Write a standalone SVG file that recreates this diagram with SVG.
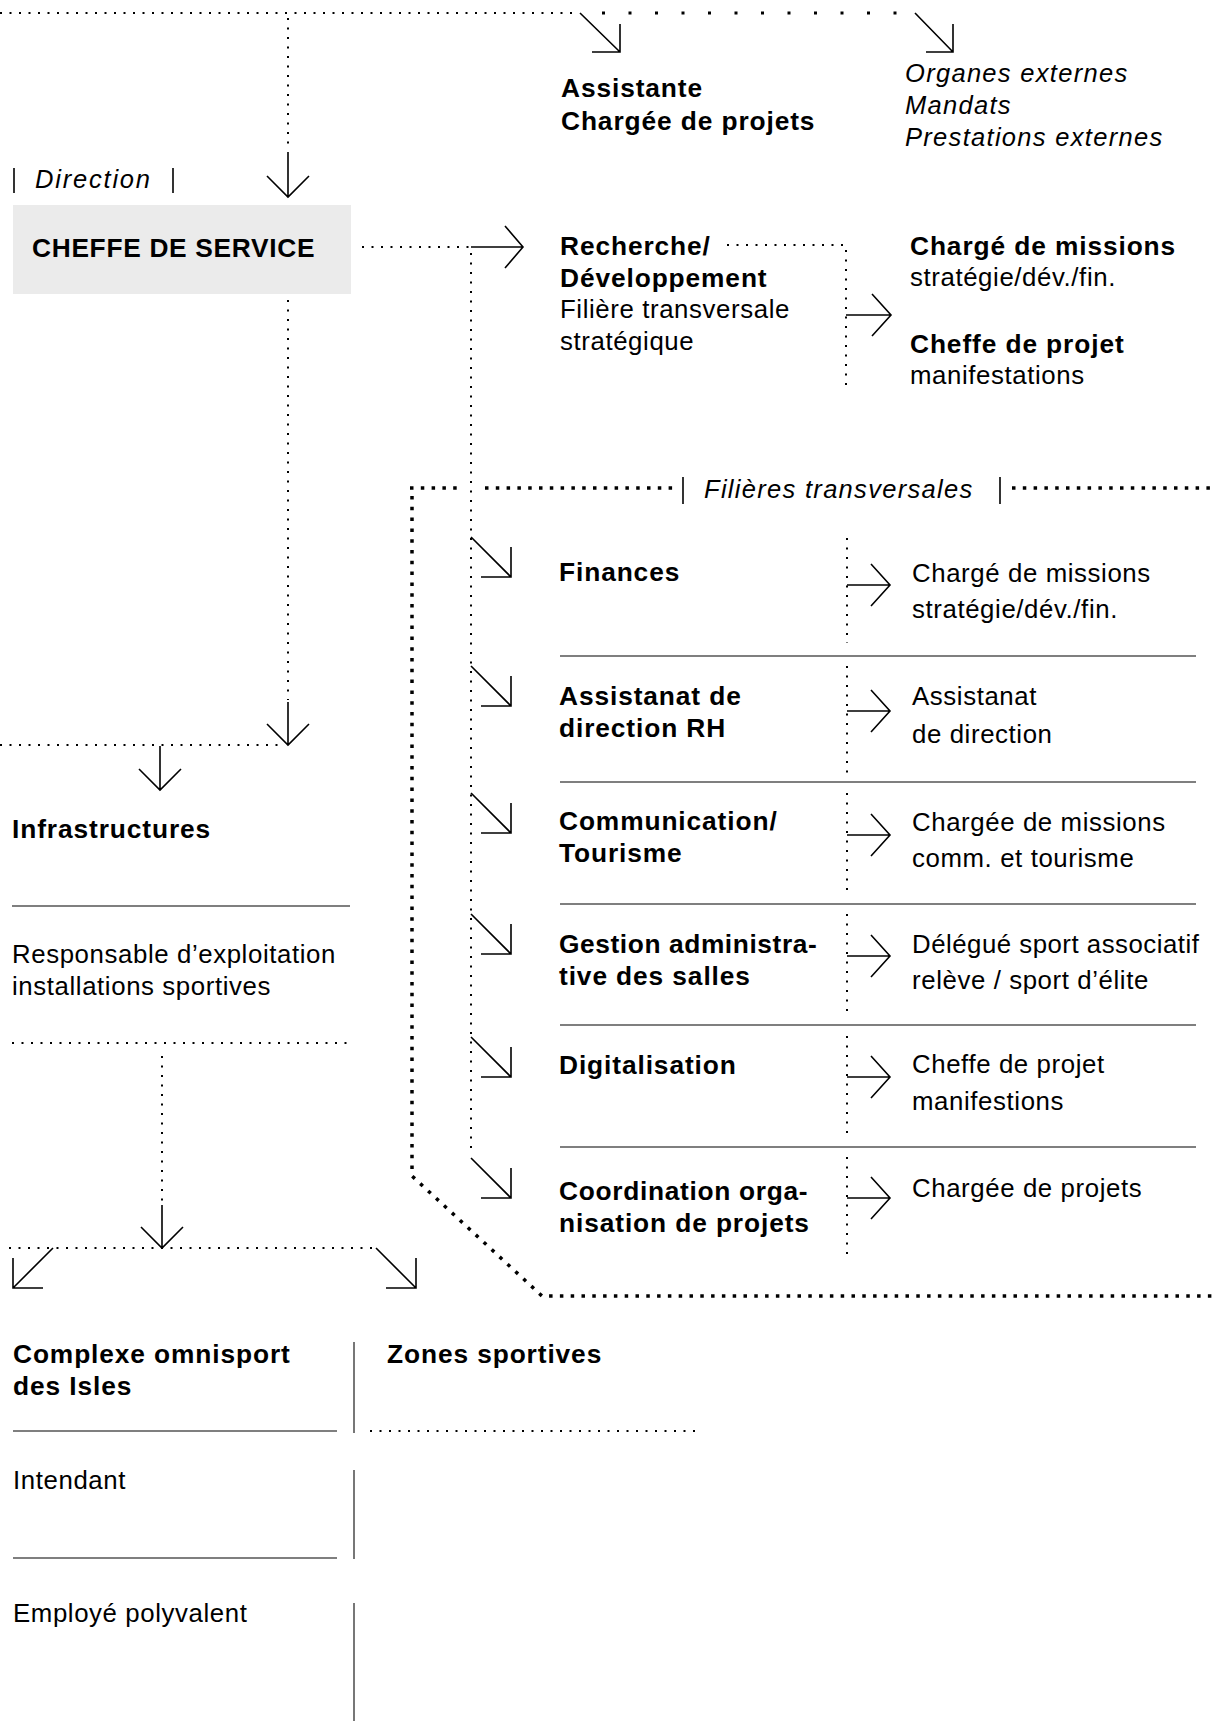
<svg xmlns="http://www.w3.org/2000/svg" width="1213" height="1721" viewBox="0 0 1213 1721">
<style>
text{font-family:"Liberation Sans",Arial,Helvetica,sans-serif;font-size:25.8px;fill:#000}
.b{font-weight:700;font-size:26.3px;letter-spacing:0.9px}
.r{letter-spacing:0.6px}
.i{font-style:italic;font-size:25.5px;letter-spacing:1.3px}
.dot{stroke:#000;stroke-width:2;stroke-dasharray:2 7.5;fill:none}
.thick{stroke:#000;stroke-width:3.5;stroke-dasharray:3.5 7.3;fill:none}
.big{stroke:#000;stroke-width:3;stroke-dasharray:3 23.5;fill:none}
.sol{stroke:#000;stroke-width:1.6;fill:none}
.sep{stroke:#555;stroke-width:1.6;fill:none}
.bar{stroke:#000;stroke-width:1.6;fill:none}
</style>
<rect width="1213" height="1721" fill="#fff"/>

<g id="connectors">
  <!-- top dotted line -->
  <line class="dot" x1="0" y1="13" x2="578" y2="13"/>
  <line class="big" x1="602" y1="13" x2="900" y2="13"/>
  <path class="sol" d="M580 13 L620 52 M592 52 H620 V24"/>
  <path class="sol" d="M915 13 L953 52 M926 52 H953 V24"/>
  <!-- down to CHEFFE -->
  <line class="dot" x1="288" y1="18" x2="288" y2="150"/>
  <path class="sol" d="M288 152 V197 M267 176 L288 197 L309 176"/>
  <!-- CHEFFE right to Recherche -->
  <line class="dot" x1="362" y1="247" x2="470" y2="247"/>
  <path class="sol" d="M471 247 H523 M505 226 L523 247 L505 268"/>
  <line class="dot" x1="471" y1="253" x2="471" y2="1154"/>
  <!-- Recherche branch -->
  <line class="dot" x1="727" y1="245" x2="846" y2="245"/>
  <line class="dot" x1="846" y1="250" x2="846" y2="386"/>
  <path class="sol" d="M846 315 H891 M872 294 L891 315 L872 336"/>
  <!-- filieres frame -->
  <line class="thick" x1="410" y1="488" x2="462" y2="488"/>
  <line class="thick" x1="485" y1="488" x2="675" y2="488"/>
  <line class="thick" x1="1012" y1="488" x2="1213" y2="488"/>
  <path class="thick" d="M412 496 V1176 L542 1296 H1213"/>
  <line class="bar" x1="683" y1="477" x2="683" y2="504"/>
  <line class="bar" x1="1000" y1="477" x2="1000" y2="504"/>
  <!-- diagonal arrows to filieres -->
  <path class="sol" d="M471 537 L511 577 M481 577 H511 V547"/>
  <path class="sol" d="M471 666 L511 706 M481 706 H511 V676"/>
  <path class="sol" d="M471 793 L511 833 M481 833 H511 V803"/>
  <path class="sol" d="M471 914 L511 954 M481 954 H511 V924"/>
  <path class="sol" d="M471 1037 L511 1077 M481 1077 H511 V1047"/>
  <path class="sol" d="M471 1158 L511 1198 M481 1198 H511 V1168"/>
  <!-- sub verticals and right arrows -->
  <line class="dot" x1="847" y1="538" x2="847" y2="643"/>
  <line class="dot" x1="847" y1="666" x2="847" y2="775"/>
  <line class="dot" x1="847" y1="793" x2="847" y2="896"/>
  <line class="dot" x1="847" y1="914" x2="847" y2="1016"/>
  <line class="dot" x1="847" y1="1036" x2="847" y2="1137"/>
  <line class="dot" x1="847" y1="1157" x2="847" y2="1258"/>
  <path class="sol" d="M847 585 H890 M871 564 L890 585 L871 606"/>
  <path class="sol" d="M847 711 H890 M871 690 L890 711 L871 732"/>
  <path class="sol" d="M847 835 H890 M871 814 L890 835 L871 856"/>
  <path class="sol" d="M847 956 H890 M871 935 L890 956 L871 977"/>
  <path class="sol" d="M847 1077 H890 M871 1056 L890 1077 L871 1098"/>
  <path class="sol" d="M847 1198 H890 M871 1177 L890 1198 L871 1219"/>
  <!-- separators -->
  <line class="sep" x1="560" y1="656" x2="1196" y2="656"/>
  <line class="sep" x1="560" y1="782" x2="1196" y2="782"/>
  <line class="sep" x1="560" y1="904" x2="1196" y2="904"/>
  <line class="sep" x1="560" y1="1025" x2="1196" y2="1025"/>
  <line class="sep" x1="560" y1="1147" x2="1196" y2="1147"/>
  <!-- left branch -->
  <line class="dot" x1="288" y1="300" x2="288" y2="700"/>
  <path class="sol" d="M288 702 V745 M267 724 L288 745 L309 724"/>
  <line class="dot" x1="0" y1="745" x2="284" y2="745"/>
  <path class="sol" d="M160 746 V790 M139 769 L160 790 L181 769"/>
  <line class="sep" x1="12" y1="906" x2="350" y2="906"/>
  <line class="dot" x1="12" y1="1043" x2="350" y2="1043"/>
  <line class="dot" x1="162" y1="1056" x2="162" y2="1204"/>
  <path class="sol" d="M162 1205 V1248 M141 1227 L162 1248 L183 1227"/>
  <line class="dot" x1="9" y1="1248" x2="374" y2="1248"/>
  <path class="sol" d="M53 1248 L13 1288 M43 1288 H13 V1258"/>
  <path class="sol" d="M376 1248 L416 1288 M386 1288 H416 V1258"/>
  <!-- bottom -->
  <line class="sep" x1="13" y1="1431" x2="337" y2="1431"/>
  <line class="dot" x1="370" y1="1431" x2="697" y2="1431"/>
  <line class="sep" x1="13" y1="1558" x2="337" y2="1558"/>
  <line class="sep" x1="354" y1="1342" x2="354" y2="1433"/>
  <line class="sep" x1="354" y1="1470" x2="354" y2="1559"/>
  <line class="sep" x1="354" y1="1603" x2="354" y2="1721"/>
</g>

<g id="assistante">
  <text class="b" x="561" y="97">Assistante</text>
  <text class="b" x="561" y="130">Chargée de projets</text>
</g>
<g id="externes">
  <text class="i" x="905" y="82">Organes externes</text>
  <text class="i" x="905" y="114">Mandats</text>
  <text class="i" x="905" y="146">Prestations externes</text>
</g>
<g id="direction">
  <line class="bar" x1="14" y1="168" x2="14" y2="193"/>
  <text class="i" x="35" y="188" style="letter-spacing:1.8px">Direction</text>
  <line class="bar" x1="173" y1="168" x2="173" y2="193"/>
</g>
<g id="cheffe">
  <rect x="13" y="205" width="338" height="89" fill="#ebebeb"/>
  <text class="b" x="32" y="257" style="letter-spacing:0.7px">CHEFFE DE SERVICE</text>
</g>
<g id="recherche">
  <text class="b" x="560" y="255">Recherche/</text>
  <text class="b" x="560" y="287">Développement</text>
  <text class="r" x="560" y="318">Filière transversale</text>
  <text class="r" x="560" y="350">stratégique</text>
</g>
<g id="charge-missions-rd">
  <text class="b" x="910" y="255">Chargé de missions</text>
  <text class="r" x="910" y="286">stratégie/dév./fin.</text>
</g>
<g id="cheffe-projet-rd">
  <text class="b" x="910" y="353">Cheffe de projet</text>
  <text class="r" x="910" y="384">manifestations</text>
</g>
<g id="filieres-label">
  <text class="i" x="704" y="498">Filières transversales</text>
</g>
<g id="finances">
  <text class="b" x="559" y="581">Finances</text>
  <text class="r" x="912" y="582">Chargé de missions</text>
  <text class="r" x="912" y="618">stratégie/dév./fin.</text>
</g>
<g id="assistanat">
  <text class="b" x="559" y="705">Assistanat de</text>
  <text class="b" x="559" y="737">direction RH</text>
  <text class="r" x="912" y="705">Assistanat</text>
  <text class="r" x="912" y="743">de direction</text>
</g>
<g id="communication">
  <text class="b" x="559" y="830">Communication/</text>
  <text class="b" x="559" y="862">Tourisme</text>
  <text class="r" x="912" y="831">Chargée de missions</text>
  <text class="r" x="912" y="867">comm. et tourisme</text>
</g>
<g id="gestion">
  <text class="b" x="559" y="953" style="letter-spacing:0.6px">Gestion administra-</text>
  <text class="b" x="559" y="985">tive des salles</text>
  <text class="r" x="912" y="953" style="letter-spacing:0.5px">Délégué sport associatif</text>
  <text class="r" x="912" y="989">relève / sport d’élite</text>
</g>
<g id="digitalisation">
  <text class="b" x="559" y="1074">Digitalisation</text>
  <text class="r" x="912" y="1073">Cheffe de projet</text>
  <text class="r" x="912" y="1110">manifestions</text>
</g>
<g id="coordination">
  <text class="b" x="559" y="1200" style="letter-spacing:0.7px">Coordination orga-</text>
  <text class="b" x="559" y="1232">nisation de projets</text>
  <text class="r" x="912" y="1197">Chargée de projets</text>
</g>
<g id="infrastructures">
  <text class="b" x="12" y="838">Infrastructures</text>
</g>
<g id="responsable">
  <text class="r" x="12" y="963">Responsable d’exploitation</text>
  <text class="r" x="12" y="995">installations sportives</text>
</g>
<g id="complexe">
  <text class="b" x="13" y="1363">Complexe omnisport</text>
  <text class="b" x="13" y="1395">des Isles</text>
</g>
<g id="zones">
  <text class="b" x="387" y="1363">Zones sportives</text>
</g>
<g id="intendant">
  <text class="r" x="13" y="1489">Intendant</text>
</g>
<g id="employe">
  <text class="r" x="13" y="1622">Employé polyvalent</text>
</g>
</svg>
